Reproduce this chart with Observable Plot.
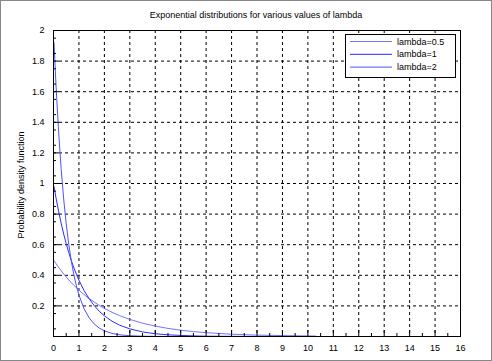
<!DOCTYPE html>
<html><head><meta charset="utf-8">
<script src="https://cdn.jsdelivr.net/npm/d3@7"></script>
<script src="https://cdn.jsdelivr.net/npm/@observablehq/plot@0.6"></script>
<style>body{margin:0;background:#fff}</style>
</head><body><div id="chart"></div>
<script>
const titleText = "Exponential distributions for various values of lambda";
const yLabel = "Probability density function";
const xs = [0.02,0.1,0.2,0.3,0.4,0.5,0.6,0.7,0.8,0.9,1.0,1.2,1.4,1.6,1.8,2.0,2.3,2.6,3.0,3.5,4.0,4.5,5.0,5.5,6.0,7.0,8.0,9.0,10.3];
const lambda05 = [0.495,0.476,0.452,0.430,0.409,0.389,0.370,0.352,0.335,0.319,0.303,0.274,0.248,0.225,0.203,0.184,0.158,0.136,0.112,0.087,0.068,0.053,0.041,0.032,0.025,0.015,0.009,0.006,0.003];
const lambda1 = [0.980,0.905,0.819,0.741,0.670,0.607,0.549,0.497,0.449,0.407,0.368,0.301,0.247,0.202,0.165,0.135,0.100,0.074,0.050,0.030,0.018,0.011,0.007,0.004,0.002,0.001,0.0003,0.0001,0.00003];
const lambda2 = [1.922,1.637,1.341,1.098,0.899,0.736,0.602,0.493,0.404,0.331,0.271,0.181,0.122,0.082,0.055,0.037,0.020,0.011,0.005,0.002,0.0007,0.0002,0.0001,0,0,0,0,0,0];
const seriesNames = ["lambda=0.5","lambda=1","lambda=2"];
const seriesColors = ["#7474ff","#2b2bff","#5050ff"];
const xTickLabels = d3.range(0,17);
const yTickLabels = [0.2,0.4,0.6,0.8,1,1.2,1.4,1.6,1.8,2];
const xGrid = d3.range(1,16);
const yGrid = [0.2,0.4,0.6,0.8,1,1.2,1.4,1.6,1.8];
const xMinor = d3.range(0,16).map(d=>d+0.5);
const yMinor = d3.range(0,20).map(d=>(2*d+1)/20);
const series = [lambda05, lambda1, lambda2];

const W=492,H=361,mL=53,mR=32,mT=30,mB=25;
const innerH=H-mT-mB, innerW=W-mL-mR;

const plot = Plot.plot({
  width:W, height:H, marginLeft:mL, marginRight:mR, marginTop:mT, marginBottom:mB,
  x:{domain:[0,16]}, y:{domain:[0,2]},
  style:{fontFamily:"Liberation Sans, Arial, sans-serif", fontSize:"9px", background:"white", color:"black"},
  marks:[
    Plot.gridX(xGrid,{stroke:"black",strokeOpacity:1,strokeDasharray:"3,3"}),
    Plot.gridY(yGrid,{stroke:"black",strokeOpacity:1,strokeDasharray:"3,3"}),
    ...series.map((s,i)=>Plot.line(xs.map((x,j)=>({x,y:s[j]})),{x:"x",y:"y",stroke:seriesColors[i],strokeWidth:1,clip:true})),
    Plot.tickX(xTickLabels,{x:d=>d,insetTop:innerH-6,stroke:"black"}),
    Plot.tickX(xMinor,{x:d=>d,insetTop:innerH-3,stroke:"black"}),
    Plot.tickY(yTickLabels,{y:d=>d,insetRight:innerW-6,stroke:"black"}),
    Plot.tickY(yMinor,{y:d=>d,insetRight:innerW-3,stroke:"black"}),
    Plot.frame({stroke:"black"}),
    Plot.axisX(xTickLabels,{tickSize:0,tickPadding:8,label:null,tickFormat:d=>String(d)}),
    Plot.axisY(yTickLabels,{tickSize:0,tickPadding:9,label:null,tickFormat:d=>String(d)})
  ]
});
const svg = d3.select(plot);
svg.append("text").attr("x",256).attr("y",18).attr("text-anchor","middle").attr("font-size","9px").text(titleText);
svg.append("text").attr("transform","translate(24,185) rotate(-90)").attr("text-anchor","middle").attr("font-size","9px").text(yLabel);
const lg = svg.append("g");
lg.append("rect").attr("x",345.5).attr("y",34.5).attr("width",110).attr("height",43).attr("fill","white").attr("stroke","black");
seriesNames.forEach((n,i)=>{
  const y=41.5+i*12.8;
  lg.append("line").attr("x1",350).attr("x2",392).attr("y1",y).attr("y2",y).attr("stroke",seriesColors[i]);
  lg.append("text").attr("x",397).attr("y",y+3).attr("font-size","9px").attr("text-anchor","start").text(n);
});
svg.append("rect").attr("x",0.5).attr("y",0.5).attr("width",W-1).attr("height",H-1).attr("fill","none").attr("stroke","#888");
document.getElementById("chart").append(plot);
</script></body></html>
